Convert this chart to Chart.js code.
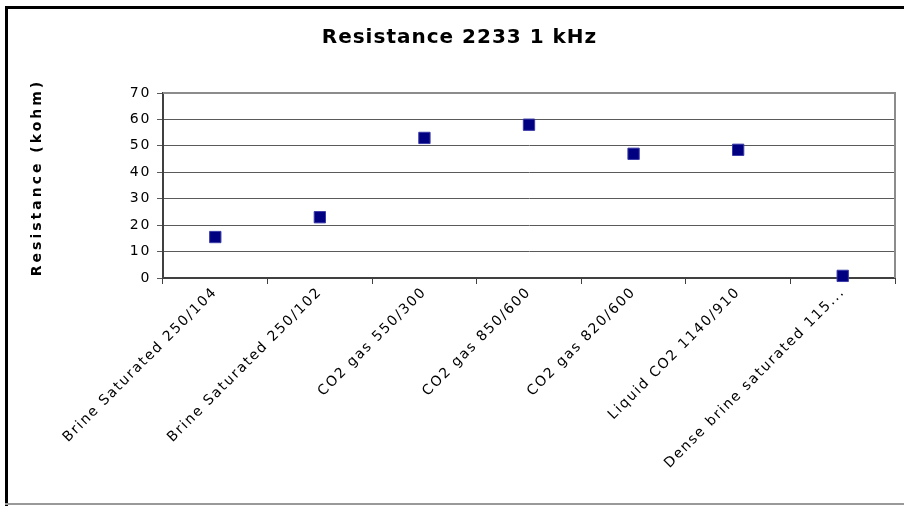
<!DOCTYPE html>
<html>
<head>
<meta charset="utf-8">
<script src="https://cdn.jsdelivr.net/npm/chart.js@4.4.1/dist/chart.umd.min.js"></script>
<style>
  html, body { margin: 0; padding: 0; background: #fff; }
  #wrap { width: 904px; height: 506px; }
</style>
</head>
<body>
<div id="wrap"><canvas id="myChart"></canvas></div>
<script>
const categories = [
  'Brine Saturated 250/104',
  'Brine Saturated 250/102',
  'CO2 gas 550/300',
  'CO2 gas 850/600',
  'CO2 gas 820/600',
  'Liquid CO2 1140/910',
  'Dense brine saturated 115...'
];
const resistance = [15.5, 23, 53, 58, 47, 48.5, 0.8];
const yTicks = [0, 10, 20, 30, 40, 50, 60, 70];

const FONT = 'DejaVu Sans';

// wraps a draw method so it runs with its own letter spacing / shift
function spaced(fn, spacing, dx, dy) {
  return function(...args) {
    const ctx = this.ctx;
    ctx.save();
    ctx.letterSpacing = spacing;
    ctx.translate(dx || 0, dy || 0);
    fn.apply(this, args);
    ctx.restore();
  };
}

const framePlugin = {
  id: 'frame',
  beforeDraw(chart) {
    const ctx = chart.ctx;
    ctx.save();
    ctx.fillStyle = '#fff';
    ctx.fillRect(0, 0, chart.width, chart.height);
    ctx.fillStyle = '#000';
    ctx.fillRect(5, 6, 899, 3);
    ctx.fillRect(5, 6, 3, 500);
    ctx.fillStyle = '#999';
    ctx.fillRect(5, 503, 899, 2);
    ctx.restore();

    if (chart.titleBlock && !chart.titleBlock._ls) {
      chart.titleBlock.draw = spaced(chart.titleBlock.draw, '1px', 5, 0);
      chart.titleBlock._ls = true;
    }
    ['x', 'y'].forEach(id => {
      const s = chart.scales[id];
      if (s && !s._ls) {
        s.drawLabels = spaced(s.drawLabels, '1.7px');
        if (id === 'y') s.drawTitle = spaced(s.drawTitle, '3px', 0, -8);
        s._ls = true;
      }
    });
  },
  afterDatasetsDraw(chart) {
    const {ctx, chartArea: a} = chart;
    ctx.save();
    ctx.strokeStyle = '#8c8c8c';
    ctx.lineWidth = 2;
    ctx.beginPath();
    ctx.moveTo(a.left, a.top);
    ctx.lineTo(a.right, a.top);
    ctx.lineTo(a.right, a.bottom);
    ctx.stroke();
    ctx.restore();
  }
};

new Chart(document.getElementById('myChart'), {
  type: 'line',
  data: {
    labels: categories,
    datasets: [{
      label: 'Resistance',
      data: resistance,
      showLine: false,
      pointStyle: 'rect',
      pointRadius: 8,
      pointHoverRadius: 8,
      pointBackgroundColor: '#000080',
      pointBorderColor: '#3a3aa8',
      pointBorderWidth: 1,
      clip: false
    }]
  },
  options: {
    responsive: true,
    maintainAspectRatio: false,
    animation: false,
    layout: { padding: { left: 10, right: 5, top: 0, bottom: 0 } },
    plugins: {
      legend: { display: false },
      tooltip: { enabled: false },
      title: {
        display: true,
        text: 'Resistance 2233 1 kHz',
        color: '#000',
        font: { family: FONT, size: 20, weight: 'bold' },
        padding: { top: 26, bottom: 43 }
      }
    },
    scales: {
      x: {
        type: 'category',
        offset: true,
        afterFit: s => { s.height = 228; },
        grid: {
          offset: true,
          drawOnChartArea: false,
          tickLength: 6,
          color: '#404040'
        },
        border: { color: '#404040', width: 2 },
        ticks: {
          autoSkip: false,
          minRotation: 45,
          maxRotation: 45,
          padding: 0,
          color: '#000',
          font: { family: FONT, size: 14 }
        }
      },
      y: {
        min: 0,
        max: 70,
        afterFit: s => { s.width = 153; },
        afterBuildTicks: s => { s.ticks = yTicks.map(v => ({ value: v })); },
        grid: { color: '#5a5a5a', lineWidth: 1, tickLength: 6 },
        border: { color: '#404040', width: 2 },
        ticks: {
          padding: 6,
          color: '#000',
          font: { family: FONT, size: 14 }
        },
        title: {
          display: true,
          text: 'Resistance (kohm)',
          color: '#000',
          font: { family: FONT, size: 14, weight: 'bold' },
          padding: { top: 19, bottom: 0 }
        }
      }
    }
  },
  plugins: [framePlugin]
});
</script>
</body>
</html>
